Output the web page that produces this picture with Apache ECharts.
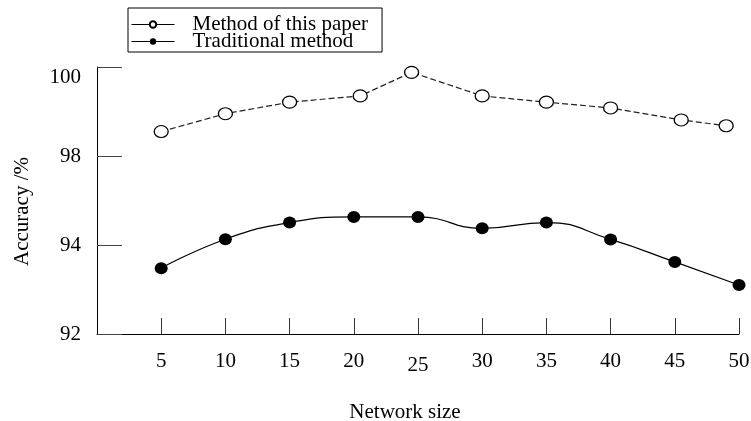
<!DOCTYPE html>
<html>
<head>
<meta charset="utf-8">
<script src="https://cdn.jsdelivr.net/npm/echarts@6/dist/echarts.min.js"></script>
<style>html,body{margin:0;padding:0;background:#fff;}#c{width:751px;height:421px;}</style>
</head>
<body>
<div id="c"></div>
<script>
// ---- data ----
const seriesNames = ['Method of this paper', 'Traditional method'];
const xTickValues = [5, 10, 15, 20, 25, 30, 35, 40, 45, 50];
const yTickLabels = [92, 94, 98, 100];
const paperX = [5, 10, 15, 20.5, 24.5, 30, 35, 40, 45.5, 49];
const paperY = [98.55, 98.95, 99.21, 99.35, 99.88, 99.35, 99.21, 99.08, 98.81, 98.68];
const tradX = [5, 10, 15, 20, 25, 30, 35, 40, 45, 50];
const tradY = [93.48, 94.26, 95.01, 95.26, 95.26, 94.75, 95.01, 94.25, 93.62, 93.10];

// broken (non-uniform) y axis: tick labels are evenly spaced; values mapped piecewise between them
function toAxis(v) {
  for (let i = 0; i < yTickLabels.length - 1; i++) {
    const a = yTickLabels[i], b = yTickLabels[i + 1];
    if (v <= b || i === yTickLabels.length - 2) return i + (v - a) / (b - a);
  }
}
const pairs = (xs, ys) => xs.map((x, i) => [x, toAxis(ys[i])]);

const FONT = 'Liberation Serif';
const chart = echarts.init(document.getElementById('c'), null, {renderer: 'canvas'});
chart.setOption({
  animation: false,
  backgroundColor: '#fff',
  textStyle: {fontFamily: FONT, color: '#000'},
  grid: {left: 97, right: 12, top: 67, bottom: 87, containLabel: false, outerBoundsMode: 'none'},
  legend: {
    orient: 'vertical',
    left: 128, top: 8,
    padding: [6, 14, 0, 3],
    borderColor: '#000', borderWidth: 1, borderRadius: 0,
    itemWidth: 43, itemHeight: 8, itemGap: -4,
    textStyle: {fontFamily: FONT, fontSize: 21, color: '#000', padding: [0, 0, 0, 13]},
    data: [
      {name: seriesNames[0], lineStyle: {type: 'solid', color: '#000', width: 1}},
      {name: seriesNames[1], lineStyle: {type: 'solid', color: '#000', width: 1}}
    ]
  },
  xAxis: {
    type: 'value', min: 0, max: 50, interval: 5,
    name: 'Network size', nameLocation: 'middle', nameGap: 68,
    nameTextStyle: {fontFamily: FONT, fontSize: 21, color: '#000', padding: [0, 26, 0, 0]},
    axisLine: {show: true, onZero: false, lineStyle: {color: '#000', width: 1}},
    axisTick: {show: true, inside: true, length: 16, customValues: xTickValues, lineStyle: {color: '#333', width: 1}},
    axisLabel: {
      customValues: xTickValues, margin: 17, fontFamily: FONT, fontSize: 21, color: '#000',
      formatter: v => v === 25 ? '{lo|25}' : String(v),
      rich: {lo: {fontFamily: FONT, fontSize: 21, color: '#000', padding: [4, 0, 0, 0]}}
    },
    splitLine: {show: false}
  },
  yAxis: {
    type: 'value', min: 0, max: yTickLabels.length - 1, interval: 1,
    name: 'Accuracy /%', nameLocation: 'middle', nameGap: 64,
    nameTextStyle: {fontFamily: FONT, fontSize: 21, color: '#000', padding: [0, 22, 0, 0]},
    axisLine: {show: true, onZero: false, lineStyle: {color: '#000', width: 1}},
    axisTick: {show: true, inside: true, length: 25, lineStyle: {color: '#444', width: 1}},
    axisLabel: {
      margin: 16, fontFamily: FONT, fontSize: 21, color: '#000',
      formatter: v => {
        const t = String(yTickLabels[Math.round(v)]);
        return Math.round(v) === yTickLabels.length - 1 ? '{hi|' + t + '}' : t;
      },
      rich: {hi: {fontFamily: FONT, fontSize: 21, color: '#000', padding: [20, 0, 0, 0]}}
    },
    splitLine: {show: false}
  },
  series: [
    {
      name: seriesNames[0], type: 'line', clip: false,
      data: pairs(paperX, paperY),
      symbol: 'circle', symbolSize: [14, 12],
      itemStyle: {color: '#fff', borderColor: '#000', borderWidth: 1.2},
      lineStyle: {color: '#222', width: 1.2, type: [6, 3]},
      z: 3
    },
    {
      name: seriesNames[1], type: 'line', clip: false, smooth: true,
      data: pairs(tradX, tradY),
      symbol: 'circle', symbolSize: [13, 12],
      itemStyle: {color: '#000', borderColor: '#000', borderWidth: 0},
      lineStyle: {color: '#000', width: 1.2, type: 'solid'},
      z: 2
    }
  ]
});
</script>
</body>
</html>
